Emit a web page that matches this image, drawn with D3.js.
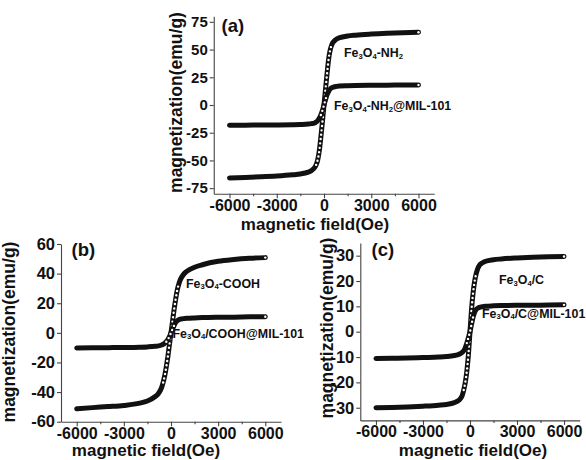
<!DOCTYPE html>
<html><head><meta charset="utf-8">
<script src="https://cdn.jsdelivr.net/npm/d3@7"></script>
<style>body{margin:0;background:#fff}svg{display:block}</style>
</head><body>
<svg id="chart" width="586" height="460"></svg>
<script>
// ---------- data ----------
const fieldOe = [-6000,-5000,-4000,-3000,-2000,-1500,-1000,-800,-600,-500,-400,-300,-200,-100,0,100,200,300,400,500,600,800,1000,1500,2000,3000,4000,5000,6000];

// panel (a)
const mNH2     = [-65.8,-65.3,-64.8,-64.1,-63.0,-62.2,-60.5,-59.2,-56.5,-54.0,-49.5,-41.5,-29.0,-15.0,0,15.0,29.0,42.0,50.0,54.5,57.0,59.5,60.7,62.2,63.0,64.0,64.7,65.2,65.6];
const mNH2MIL  = [-18.3,-18.2,-18.1,-18.0,-17.8,-17.6,-17.2,-16.8,-16.2,-15.4,-14.0,-12.0,-9.0,-5.0,0,5.0,9.5,12.5,14.5,15.6,16.2,16.8,17.1,17.4,17.6,17.8,17.9,18.0,18.1];
// panel (b)
const mCOOH    = [-51.3,-50.5,-49.8,-49.0,-47.5,-46.0,-43.0,-41.0,-37.0,-33.5,-29.0,-23.0,-16.0,-8.0,0,8.0,16.0,23.0,29.0,33.0,36.0,39.5,41.5,44.3,46.0,48.3,49.5,50.3,50.8];
const mCOOHMIL = [-10.2,-10.1,-10.0,-9.9,-9.7,-9.5,-9.1,-8.8,-8.2,-7.7,-7.0,-6.0,-4.5,-2.5,0,2.5,5.0,7.0,8.2,8.9,9.3,9.6,9.8,10.1,10.3,10.5,10.6,10.8,10.9];
// panel (c)
const mC       = [-30.0,-29.9,-29.7,-29.4,-29.0,-28.7,-28.0,-27.4,-26.3,-25.2,-23.0,-20.0,-15.5,-9.0,0,9.0,15.5,20.0,23.0,25.0,26.2,27.2,27.8,28.4,28.7,29.1,29.4,29.6,29.7];
const mCMIL    = [-10.55,-10.5,-10.4,-10.2,-10.0,-9.8,-9.4,-9.1,-8.6,-8.2,-7.5,-6.3,-4.5,-2.3,0,3.0,5.8,7.8,8.8,9.3,9.6,9.9,10.05,10.2,10.3,10.4,10.45,10.5,10.6];

const xTicks = [-6000,-3000,0,3000,6000];
const xMinorTicks = [-4500,-1500,1500,4500];
const yTicksA = [-75,-50,-25,0,25,50,75];
const yTicksB = [-60,-40,-20,0,20,40,60];
const yTicksC = [-30,-20,-10,0,10,20,30];

const panelTags = ["(a)","(b)","(c)"];
const xTitle = "magnetic field(Oe)";
const yTitle = "magnetization(emu/g)";
// "_d" marks a subscript digit
const labelsA = ["Fe_3O_4-NH_2","Fe_3O_4-NH_2@MIL-101"];
const labelsB = ["Fe_3O_4-COOH","Fe_3O_4/COOH@MIL-101"];
const labelsC = ["Fe_3O_4/C","Fe_3O_4/C@MIL-101"];

// ---------- layout / style ----------
const FONT = "'Liberation Sans', Arial, Helvetica, sans-serif";
const panels = [
  {xr:[213.75,434.25], yr:[193.7,16.3], yd:[-80,80], yt:yTicksA, ytFont:15,
   series:[mNH2,mNH2MIL], ring:[520,260], labels:labelsA,
   labelPos:[[344,57],[334,110]], tagPos:[221.5,31.5],
   xtPos:[315,230], ytPos:[182,102.5]},
  {xr:[61,281], yr:[421.7,244], yd:[-60,60], yt:yTicksB, ytFont:16.5,
   series:[mCOOH,mCOOHMIL], ring:[560,300], labels:labelsB,
   labelPos:[[186,287.5],[172.5,337.5]], tagPos:[71.5,256],
   xtPos:[146,456], ytPos:[15,332]},
  {xr:[360.3,579.7], yr:[420.4,243], yd:[-35,35], yt:yTicksC, ytFont:16.5,
   series:[mC,mCMIL], ring:[420,220], labels:labelsC,
   labelPos:[[499,284],[482,317.5]], tagPos:[371.5,256],
   xtPos:[473,456], ytPos:[333,328]}
];

const svg = d3.select("#chart");

function addLabel(g, str, x, y, size) {
  const t = g.append("text").attr("x", x).attr("y", y)
    .attr("font-family", FONT).attr("font-weight", "bold")
    .attr("font-size", size).attr("fill", "#111");
  const parts = str.split(/(_\d)/).filter(s => s.length);
  let prevSub = false;
  parts.forEach(p => {
    if (p[0] === "_") {
      t.append("tspan").attr("font-size", size*0.62).attr("dy", prevSub ? 0 : 1.8).text(p.slice(1));
      prevSub = true;
    } else {
      t.append("tspan").attr("dy", prevSub ? -1.8 : 0).text(p);
      prevSub = false;
    }
  });
}

panels.forEach((p, pi) => {
  const x = d3.scaleLinear().domain([-7000, 7000]).range(p.xr);
  const y = d3.scaleLinear().domain(p.yd).range(p.yr);
  const g = svg.append("g");

  // axes
  const xAxis = d3.axisBottom(x).tickValues(xTicks).tickSize(4.5).tickSizeOuter(0)
    .tickPadding(1).tickFormat(d => String(d));
  const gx = g.append("g").attr("transform", `translate(0,${p.yr[0]})`).call(xAxis);
  gx.selectAll("text").attr("font-family", FONT).attr("font-weight", "bold")
    .attr("font-size", 16).attr("fill", "#111");
  const gxm = g.append("g").attr("transform", `translate(0,${p.yr[0]})`)
    .call(d3.axisBottom(x).tickValues(xMinorTicks).tickSize(2.5).tickFormat(""));
  gxm.select(".domain").remove();

  const yAxis = d3.axisLeft(y).tickValues(p.yt).tickSize(4).tickSizeOuter(0)
    .tickPadding(2).tickFormat(d => String(d));
  const gy = g.append("g").attr("transform", `translate(${p.xr[0]},0)`).call(yAxis);
  gy.selectAll("text").attr("font-family", FONT).attr("font-weight", "bold")
    .attr("font-size", p.ytFont).attr("fill", "#111");

  g.selectAll(".domain").attr("stroke", "#444").attr("stroke-width", 1.1);
  g.selectAll(".tick line").attr("stroke", "#444").attr("stroke-width", 1.1);

  // axis titles
  g.append("text").attr("x", p.xtPos[0]).attr("y", p.xtPos[1])
    .attr("text-anchor", "middle").attr("font-family", FONT).attr("font-weight", "bold")
    .attr("font-size", 17).attr("fill", "#111").text(xTitle);
  g.append("text").attr("transform", `translate(${p.ytPos[0]},${p.ytPos[1]}) rotate(-90)`)
    .attr("text-anchor", "middle").attr("font-family", FONT).attr("font-weight", "bold")
    .attr("font-size", 17.5).attr("fill", "#111").text(yTitle);

  // curves
  const line = d3.line().x(d => x(d[0])).y(d => y(d[1])).curve(d3.curveMonotoneX);
  p.series.forEach((m, si) => {
    const pts = fieldOe.map((h, i) => [h, m[i]]);
    g.append("path").attr("d", line(pts)).attr("fill", "none")
      .attr("stroke", "#111").attr("stroke-width", 5)
      .attr("stroke-linejoin", "round").attr("stroke-linecap", "round");
    // open-circle look where points spread apart (steep part)
    const steep = pts.filter(d => Math.abs(d[0]) <= p.ring[si]);
    g.append("path").attr("d", line(steep)).attr("fill", "none")
      .attr("stroke", "#fff").attr("stroke-width", 2.4)
      .attr("stroke-linecap", "round").attr("stroke-dasharray", "0,4.4");
    const last = pts[pts.length-1];
    g.append("circle").attr("cx", x(last[0])).attr("cy", y(last[1])).attr("r", 1.2)
      .attr("fill", "#fff");
  });

  // labels
  p.labels.forEach((lab, li) => addLabel(g, lab, p.labelPos[li][0], p.labelPos[li][1], 12.4));
  g.append("text").attr("x", p.tagPos[0]).attr("y", p.tagPos[1])
    .attr("font-family", FONT).attr("font-weight", "bold").attr("font-size", 18.5)
    .attr("fill", "#111").text(panelTags[pi]);
});
</script>
</body></html>
